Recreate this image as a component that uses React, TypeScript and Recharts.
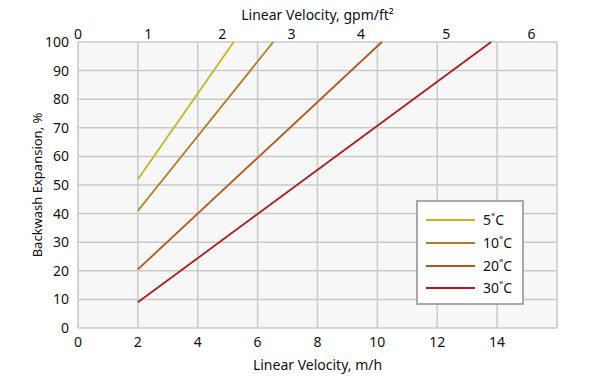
import React from 'react';
import { LineChart, Line, XAxis, YAxis, CartesianGrid, Label } from 'recharts';

const seriesNames = ['5˚C', '10˚C', '20˚C', '30˚C'];
const seriesColors = ['#c9b420', '#b27d22', '#b4561e', '#ad1c1e'];
const velocity5 = [2, 5.2];
const expansion5 = [52, 100];
const velocity10 = [2, 6.52];
const expansion10 = [41, 100];
const velocity20 = [2, 10.15];
const expansion20 = [20.5, 100];
const velocity30 = [2, 13.8];
const expansion30 = [9, 100];

const bottomTicks = [0, 2, 4, 6, 8, 10, 12, 14, 16];
const yTicks = [0, 10, 20, 30, 40, 50, 60, 70, 80, 90, 100];
const topTickPositions = [0, 2.35, 4.82, 7.13, 9.45, 12.3, 15.15];
const topTickLabels = ['0', '1', '2', '3', '4', '5', '6'];

const build = (xs: number[], ys: number[]) => xs.map((x, i) => ({ x, y: ys[i] }));
const seriesData = [
  build(velocity5, expansion5),
  build(velocity10, expansion10),
  build(velocity20, expansion20),
  build(velocity30, expansion30),
];

const FONT = '"Noto Sans", "Open Sans", sans-serif';

const LegendBox = () => (
  <div
    style={{
      position: 'absolute',
      left: 416,
      top: 200,
      width: 108,
      height: 105,
      border: '2px solid #a8a8a8',
      background: '#ffffff',
      boxSizing: 'border-box',
      paddingTop: 7,
      fontFamily: FONT,
      fontSize: 14,
      color: '#111',
    }}
  >
    {seriesNames.map((n, i) => (
      <div key={n} style={{ display: 'flex', alignItems: 'center', height: 22.7 }}>
        <div style={{ marginLeft: 8, width: 49, height: 2, background: seriesColors[i] }} />
        <span style={{ marginLeft: 8, lineHeight: '16px' }}>{n}</span>
      </div>
    ))}
  </div>
);

export default function App() {
  return (
    <div style={{ position: 'absolute', left: 0, top: 0, width: 600, height: 377, background: '#fff' }}>
      <LineChart
        width={600}
        height={377}
        margin={{ top: 0, right: 43, bottom: 0, left: 0 }}
        style={{ fontFamily: FONT }}
      >
        <CartesianGrid xAxisId="bottom" fill="#f7f7f7" stroke="#c9c9c9" strokeWidth={1.5} />
        <XAxis
          xAxisId="bottom"
          dataKey="x"
          type="number"
          domain={[0, 16]}
          ticks={bottomTicks}
          tickFormatter={(v: number) => (v === 16 ? '' : String(v))}
          orientation="bottom"
          height={49}
          axisLine={false}
          tickLine={false}
          tickSize={0}
          tickMargin={9}
          tick={{ fill: '#111', fontSize: 14 }}
          allowDataOverflow
        >
          <Label value="Linear Velocity, m/h" position="insideBottom" offset={7} fill="#111" fontSize={14} />
        </XAxis>
        <XAxis
          xAxisId="top"
          dataKey="x"
          type="number"
          domain={[0, 16]}
          ticks={topTickPositions}
          tickFormatter={(v: number) => topTickLabels[topTickPositions.indexOf(v)] ?? ''}
          orientation="top"
          height={42}
          axisLine={false}
          tickLine={false}
          tickSize={0}
          tickMargin={3}
          tick={{ fill: '#111', fontSize: 14 }}
          interval={0}
          allowDataOverflow
        >
          <Label value="Linear Velocity, gpm/ft²" position="insideTop" offset={10} fill="#111" fontSize={14} />
        </XAxis>
        <YAxis
          type="number"
          domain={[0, 100]}
          ticks={yTicks}
          width={78}
          axisLine={false}
          tickLine={false}
          tickSize={0}
          tickMargin={9}
          tick={{ fill: '#111', fontSize: 14 }}
          interval={0}
        >
          <Label
            value="Backwash Expansion, %"
            angle={-90}
            position="insideLeft"
            offset={37}
            style={{ textAnchor: 'middle' }}
            fill="#111"
            fontSize={13}
          />
        </YAxis>
        {seriesData.map((d, i) => (
          <Line
            key={seriesNames[i]}
            xAxisId="bottom"
            data={d}
            dataKey="y"
            name={seriesNames[i]}
            stroke={seriesColors[i]}
            strokeWidth={1.8}
            dot={false}
            isAnimationActive={false}
          />
        ))}
        <Line
          xAxisId="top"
          data={seriesData[3]}
          dataKey="y"
          stroke="none"
          dot={false}
          activeDot={false}
          legendType="none"
          isAnimationActive={false}
        />
      </LineChart>
      <LegendBox />
    </div>
  );
}
